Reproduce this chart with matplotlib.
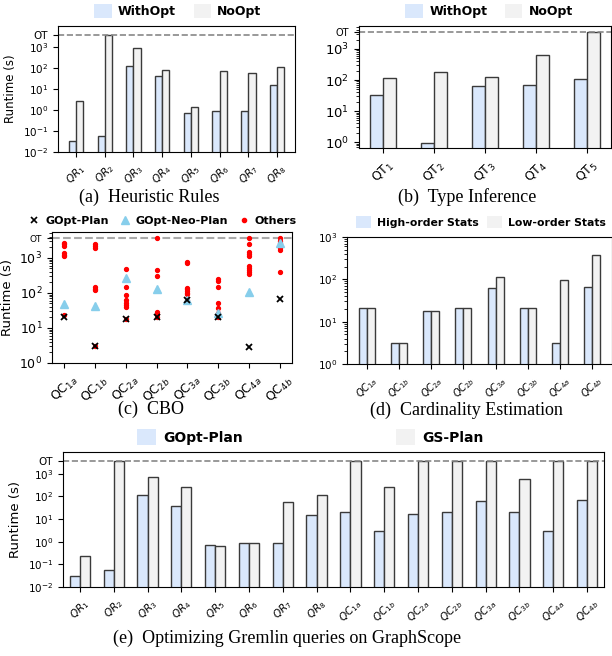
import numpy as np
import matplotlib
matplotlib.use("Agg")
import matplotlib.pyplot as plt
from matplotlib.patches import Patch
from matplotlib.lines import Line2D

# ---- data ----
OT = 3600

qr_labels = [r'$QR_{%d}$' % i for i in range(1, 9)]
qr_withopt = [0.032, 0.06, 120, 40, 0.74, 0.9, 0.9, 16]
qr_noopt = [2.6, OT, 880, 82, 1.45, 72, 56, 115]

qt_labels = [r'$\mathrm{QT}_{%d}$' % i for i in range(1, 6)]
qt_withopt = [32, 0.93, 63, 69, 110]
qt_noopt = [118, 185, 125, 630, OT]

qc_names = ['1a', '1b', '2a', '2b', '3a', '3b', '4a', '4b']
qc_labels_up = [r'$\mathrm{QC}_{%s}$' % n for n in qc_names]
qc_labels_it = [r'$QC_{%s}$' % n for n in qc_names]

cbo_gopt = [20, 3.1, 18, 20.6, 63, 21, 2.9, 67]
cbo_neo = [47, 42, 275, 133, 65, 27, 107, 2640]
cbo_others = [
    [2740, 2450, 2190, 1350, 1230, 1120, 23],
    [2450, 2190, 1960, 148, 133, 120, 3.1],
    [475, 148, 86, 62, 51, 45, 39, 18],
    [OT, 445, 307, 28.7, 25, 20.6],
    [770, 720, 141, 127, 114, 102, 91, 63],
    [246, 215, 145, 52, 37, 27, 21],
    [OT, 2500, 1450, 1270, 1120, 590, 515, 465, 405, 355],
    [OT, 3080, 2640, 2190, 1900, 1660, 405],
]

card_high = [21, 3.1, 18, 20.5, 63, 21, 3.1, 67]
card_low = [21, 3.1, 18, 20.5, 115, 21, 94, 380]

gs_labels = qr_labels + qc_labels_it
gs_gopt = [0.032, 0.056, 110, 38, 0.71, 0.85, 0.85, 15,
           20, 3.1, 17, 20, 61, 20, 3.1, 66]
gs_plan = [0.24, OT, 710, 245, 0.66, 0.9, 55, 110,
           OT, 245, OT, OT, OT, 575, OT, OT]

BLUE = '#dae8fc'
GRAY = '#f2f2f2'
EDGE = '#3a3a3a'

W, H = 612, 656
fig = plt.figure(figsize=(W / 100, H / 100), dpi=100)


def rect(l, t, r, b):
    return [l / W, 1 - b / H, (r - l) / W, (b - t) / H]


def fxy(x, y):
    return (x / W, 1 - y / H)


def bars(ax, v1, v2, width, lw=1.0):
    x = np.arange(len(v1))
    ax.bar(x - width / 2, v1, width, color=BLUE, edgecolor=EDGE, linewidth=lw)
    ax.bar(x + width / 2, v2, width, color=GRAY, edgecolor=EDGE, linewidth=lw)
    return x


def yticks(ax, lo, hi, size, ot=True, otsize=None):
    ticks = [10.0 ** k for k in range(lo, hi + 1)]
    labels = [r'$10^{%d}$' % k for k in range(lo, hi + 1)]
    if ot:
        ticks.append(OT)
        labels.append('OT')
    ax.set_yticks(ticks)
    ax.set_yticklabels(labels, fontsize=size)
    if ot and otsize:
        ax.get_yticklabels()[-1].set_fontsize(otsize)


def bar_legend(labels, pos, size=9, colsp=1.4):
    h = [Patch(facecolor=BLUE, edgecolor='none'), Patch(facecolor=GRAY, edgecolor='none')]
    fig.legend(h, labels, loc='center', bbox_to_anchor=fxy(*pos), ncol=2, frameon=False,
               prop={'weight': 'bold', 'size': size}, handlelength=1.4, handleheight=1.3,
               columnspacing=colsp, handletextpad=0.5)


cap_font = dict(family='Liberation Serif', fontsize=13, ha='center', va='center')

# (a) Heuristic Rules
ax = fig.add_axes(rect(58, 26, 295, 152))
x = bars(ax, qr_withopt, qr_noopt, 0.25)
ax.set_yscale('log')
ax.set_ylim(1e-2, 1e4)
ax.axhline(OT, color='#888888', linestyle='--', linewidth=1.2)
yticks(ax, -2, 3, 7.5)
ax.set_xticks(x)
ax.set_xticklabels(qr_labels, rotation=45, fontsize=7.5)
ax.set_ylabel('Runtime (s)', fontsize=8.5)
bar_legend(['WithOpt', 'NoOpt'], (178, 11))
fig.text(*fxy(149, 197), '(a)  Heuristic Rules', **cap_font)

# (b) Type Inference
ax = fig.add_axes(rect(359, 26, 611, 148))
x = bars(ax, qt_withopt, qt_noopt, 0.25)
ax.set_yscale('log')
ax.set_ylim(0.65, 5500)
ax.axhline(OT, color='#888888', linestyle='--', linewidth=1.2)
yticks(ax, 0, 3, 9.5, otsize=7)
ax.set_xticks(x)
ax.set_xticklabels(qt_labels, rotation=45, fontsize=9)
bar_legend(['WithOpt', 'NoOpt'], (489, 11))
fig.text(*fxy(467, 197), '(b)  Type Inference', **cap_font)

# (c) CBO
ax = fig.add_axes(rect(52, 232, 292, 363))
x = np.arange(len(qc_names))
for i, vals in enumerate(cbo_others):
    ax.plot([x[i]] * len(vals), vals, 'o', color='red', markersize=2.8, zorder=2)
ax.plot(x, cbo_neo, '^', color='#87ceeb', markersize=6, zorder=3)
ax.plot(x, cbo_gopt, 'x', color='black', markersize=5, markeredgewidth=1.3, zorder=4)
ax.set_yscale('log')
ax.set_ylim(1, 5500)
ax.set_xlim(-0.4, 7.4)
ax.axhline(OT, color='#aaaaaa', linestyle='--', linewidth=1.5, zorder=1)
yticks(ax, 0, 3, 9, otsize=6.5)
ax.set_xticks(x)
ax.set_xticklabels(qc_labels_up, rotation=45, fontsize=9)
ax.set_ylabel('Runtime (s)', fontsize=9.5)
h = [Line2D([], [], marker='x', color='black', linestyle='none', markersize=4, markeredgewidth=1.2),
     Line2D([], [], marker='^', color='#87ceeb', linestyle='none', markersize=6),
     Line2D([], [], marker='o', color='red', linestyle='none', markersize=3)]
fig.legend(h, ['GOpt-Plan', 'GOpt-Neo-Plan', 'Others'], loc='center', bbox_to_anchor=fxy(163, 221),
           ncol=3, frameon=False, prop={'weight': 'bold', 'size': 8}, handlelength=1.0,
           columnspacing=0.9, handletextpad=0.5)
fig.text(*fxy(151, 409), '(c)  CBO', **cap_font)

# (d) Cardinality Estimation
ax = fig.add_axes(rect(347, 237, 612, 364))
x = bars(ax, card_high, card_low, 0.25, lw=1.0)
ax.set_yscale('log')
ax.set_ylim(1, 1000)
yticks(ax, 0, 3, 7.5, ot=False)
ax.set_xticks(x)
ax.set_xticklabels(qc_labels_it, rotation=45, fontsize=7)
bar_legend(['High-order Stats', 'Low-order Stats'], (481, 222), size=7.8, colsp=0.8)
fig.text(*fxy(466, 410), '(d)  Cardinality Estimation', **cap_font)

# (e) Gremlin queries on GraphScope
ax = fig.add_axes(rect(63, 452, 604, 587))
x = bars(ax, gs_gopt, gs_plan, 0.3)
ax.set_yscale('log')
ax.set_ylim(1e-2, 9000)
ax.set_xlim(-0.5, 15.5)
ax.axhline(OT, color='#888888', linestyle='--', linewidth=1.2)
yticks(ax, -2, 3, 7.5)
ax.set_xticks(x)
ax.set_xticklabels(gs_labels, rotation=45, fontsize=7.5)
ax.set_ylabel('Runtime (s)', fontsize=9.5)
bar_legend(['GOpt-Plan', 'GS-Plan'], (310, 437), size=10, colsp=11)
fig.text(*fxy(287, 638), '(e)  Optimizing Gremlin queries on GraphScope', **cap_font)

fig.savefig('out.png', dpi=100)
